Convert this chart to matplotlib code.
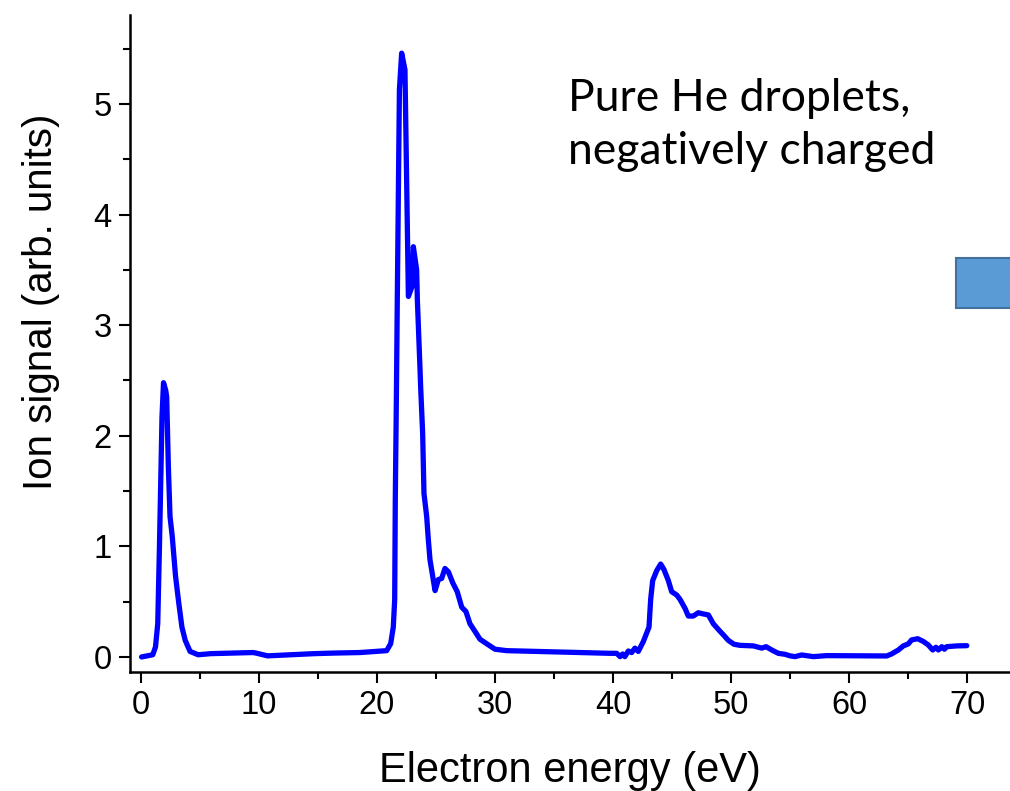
import matplotlib
matplotlib.use("Agg")
import matplotlib.pyplot as plt
from matplotlib.patches import Rectangle
from matplotlib.ticker import MultipleLocator

# --- data (energy in eV, signal in arb. units) ---
energy = [0.05, 1.0, 1.23, 1.42, 1.56, 1.70, 1.78, 1.91, 2.10, 2.18, 2.32, 2.46, 2.65,
          2.93, 3.20, 3.47, 3.75, 4.16, 4.84, 5.93, 9.49, 9.76, 10.72, 14.7, 16.3,
          18.56, 20.82, 21.16, 21.38, 21.50, 21.55, 21.64, 21.72, 21.90, 22.09, 22.37,
          22.66, 22.97, 23.08, 23.36, 23.42, 23.64, 23.70, 23.87, 23.98, 24.21, 24.35,
          24.49, 24.72, 24.92, 25.20, 25.48, 25.76, 26.05, 26.42, 26.80, 27.18, 27.54,
          27.88, 28.31, 28.73, 29.43, 30.0, 30.99, 37.2, 39.7, 40.31, 40.6, 40.82, 41.0,
          41.3, 41.58, 41.86, 42.14, 42.57, 43.05, 43.19, 43.36, 43.7, 44.04, 44.32,
          44.69, 44.97, 45.4, 45.68, 46.1, 46.38, 46.8, 47.23, 47.6, 48.08, 48.5, 49.0,
          49.35, 49.77, 50.25, 50.76, 51.89, 52.6, 52.97, 53.45, 54.0, 54.58, 55.0,
          55.42, 55.99, 56.97, 58.1, 63.19, 63.6, 64.18, 64.6, 65.02, 65.3, 65.82, 66.3,
          66.72, 67.09, 67.37, 67.57, 67.86, 68.08, 68.28, 69.13, 69.98]
signal = [0.0, 0.02, 0.09, 0.30, 0.97, 1.72, 2.17, 2.48, 2.41, 2.35, 1.72, 1.27, 1.09,
          0.73, 0.49, 0.27, 0.15, 0.05, 0.02, 0.03, 0.04, 0.035, 0.01, 0.03, 0.035,
          0.04, 0.057, 0.12, 0.27, 0.52, 1.42, 2.32, 3.23, 5.13, 5.46, 5.31,
          3.26, 3.35, 3.71, 3.50, 3.23, 2.62, 2.44, 2.02, 1.48, 1.27, 1.06,
          0.88, 0.73, 0.60, 0.70, 0.71, 0.80, 0.77, 0.67, 0.59, 0.45, 0.41,
          0.30, 0.23, 0.16, 0.11, 0.07, 0.057, 0.04, 0.033, 0.033, 0.003, 0.027, 0.003,
          0.054, 0.04, 0.08, 0.05, 0.14, 0.27, 0.52, 0.69, 0.78, 0.84, 0.79,
          0.69, 0.59, 0.56, 0.52, 0.44, 0.37, 0.37, 0.40, 0.39, 0.38, 0.30, 0.24,
          0.20, 0.15, 0.115, 0.105, 0.10, 0.08, 0.093, 0.063, 0.033, 0.024, 0.01,
          0.003, 0.018, 0.003, 0.012, 0.009, 0.027, 0.063, 0.10, 0.118, 0.154, 0.165, 0.14,
          0.108, 0.063, 0.088, 0.063, 0.093, 0.07, 0.093, 0.10, 0.102]

x_label = "Electron energy (eV)"
y_label = "Ion signal (arb. units)"
note = "Pure He droplets,\nnegatively charged"

plt.rcParams['font.family'] = ['Liberation Sans', 'DejaVu Sans']

fig = plt.figure(figsize=(10.10, 7.91), dpi=100)
ax = fig.add_axes([130 / 1010, 1 - 672 / 791, 880 / 1010, 657 / 791])

ax.plot(energy, signal, color="#0000ff", lw=3.8, solid_joinstyle="round",
        solid_capstyle="round")

ax.set_xlim(-0.93, 73.64)
ax.set_ylim(-0.136, 5.805)
ax.xaxis.set_major_locator(MultipleLocator(10))
ax.xaxis.set_minor_locator(MultipleLocator(5))
ax.yaxis.set_major_locator(MultipleLocator(1))
ax.yaxis.set_minor_locator(MultipleLocator(0.5))

for side in ("top", "right"):
    ax.spines[side].set_visible(False)
for side in ("left", "bottom"):
    ax.spines[side].set_linewidth(1.8)

ax.tick_params(which="major", direction="out", length=8, width=1.5,
               labelsize=23.5, pad=5)
ax.tick_params(which="minor", direction="out", length=5, width=1.5)

ax.set_xlabel(x_label, fontsize=30)
ax.set_ylabel(y_label, fontsize=29)
# label positions
ax.xaxis.set_label_coords(0.5, -0.12)
ax.yaxis.set_label_coords(-0.0795, 0.563)

ax.text(568 / 1010, 1 - 125 / 791, note, transform=fig.transFigure,
        fontsize=32, family=["Lato", "DejaVu Sans"], va="center", ha="left",
        linespacing=1.36)

# stray slide shape at right edge
fig.patches.append(Rectangle((956 / 1010, 1 - 308 / 791), 70 / 1010, 50 / 791,
                             transform=fig.transFigure, facecolor="#5b9bd5",
                             edgecolor="#41719c", lw=1.5))

fig.savefig("out.png", dpi=100)
